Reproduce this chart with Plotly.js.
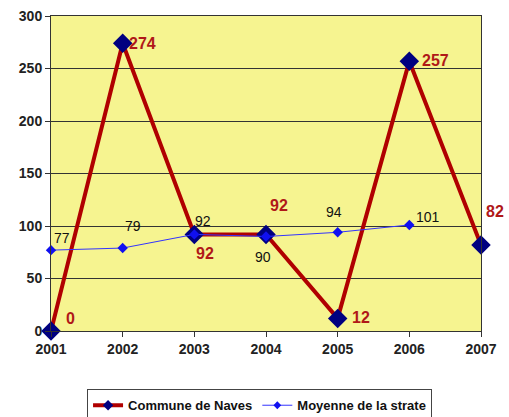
<!DOCTYPE html>
<html><head><meta charset="utf-8">
<script src="https://cdn.plot.ly/plotly-3.0.1.min.js"></script>
<style>html,body{margin:0;padding:0;background:#fff}#chart{width:509px;height:417px}</style>
</head><body><div id="chart"></div>
<script>
var years = [2001, 2002, 2003, 2004, 2005, 2006, 2007];
var communeValues = [0, 274, 92, 92, 12, 257, 82];
var strateYears = [2001, 2002, 2003, 2004, 2005, 2006];
var strateValues = [77, 79, 92, 90, 94, 101];
var seriesNames = ['Commune de Naves', 'Moyenne de la strate'];

// label offsets (pixels) for readability
var communeShift = [[19,-13],[20,0],[11,19],[13,-29],[23,-1],[26,-1],[14,-33]];
var strateShift = [[11,-12],[10,-22],[9,-13],[-3,20],[-4,-20],[19,-8]];

var FONT = 'Liberation Sans, Arial, sans-serif';
var annotations = [];
communeValues.forEach(function(v,i){
  annotations.push({x:years[i], y:v, text:String(v), showarrow:false,
    xshift:communeShift[i][0], yshift:-communeShift[i][1],
    font:{family:FONT, size:16, color:'#B01818', weight:'bold'}});
});
strateValues.forEach(function(v,i){
  annotations.push({x:strateYears[i], y:v, text:String(v), showarrow:false,
    xshift:strateShift[i][0], yshift:-strateShift[i][1],
    font:{family:FONT, size:14, color:'#111'}});
});

var traces = [
  {x:years, y:communeValues, name:seriesNames[0], type:'scatter', mode:'lines+markers', showlegend:false,
   line:{color:'#B00000', width:4}, marker:{symbol:'diamond', size:15, color:'#000080'}, cliponaxis:false},
  {x:strateYears, y:strateValues, name:seriesNames[1], type:'scatter', mode:'lines+markers', showlegend:false,
   line:{color:'#3333FF', width:1}, marker:{symbol:'diamond', size:8, color:'#1010F0'}, cliponaxis:false},
  // legend entries with smaller symbols
  {x:[null], y:[null], name:seriesNames[0], type:'scatter', mode:'lines+markers',
   line:{color:'#B00000', width:4}, marker:{symbol:'diamond', size:8, color:'#000080'}},
  {x:[null], y:[null], name:seriesNames[1], type:'scatter', mode:'lines+markers',
   line:{color:'#3333FF', width:1}, marker:{symbol:'diamond', size:6, color:'#1010F0'}}
];

var layout = {
  width:509, height:417,
  margin:{l:51, r:28, t:16, b:86, autoexpand:false},
  paper_bgcolor:'#ffffff', plot_bgcolor:'#F6F490',
  showlegend:true,
  legend:{orientation:'h', x:0.485, xanchor:'center', y:-0.185, yanchor:'top',
    bordercolor:'#444', borderwidth:1, bgcolor:'#fff', itemwidth:30, tracegroupgap:0,
    font:{family:FONT, size:13, color:'#111', weight:'bold'}, traceorder:'normal'},
  xaxis:{range:[2001,2007], tickvals:years, ticktext:years.map(String),
    showgrid:false, zeroline:false, showline:true, linecolor:'#333', linewidth:1, mirror:true,
    ticks:'outside', ticklen:5, tickcolor:'#333',
    tickfont:{family:FONT, size:14, color:'#222', weight:'bold'}},
  yaxis:{range:[0,300], dtick:50, showgrid:true, gridcolor:'#333', gridwidth:1,
    zeroline:false, showline:true, linecolor:'#333', linewidth:1, mirror:true,
    ticks:'outside', ticklen:5, tickcolor:'#333',
    tickfont:{family:FONT, size:14, color:'#222', weight:'bold'}},
  annotations:annotations
};
Plotly.newPlot('chart', traces, layout, {displayModeBar:false, staticPlot:true});
</script></body></html>
